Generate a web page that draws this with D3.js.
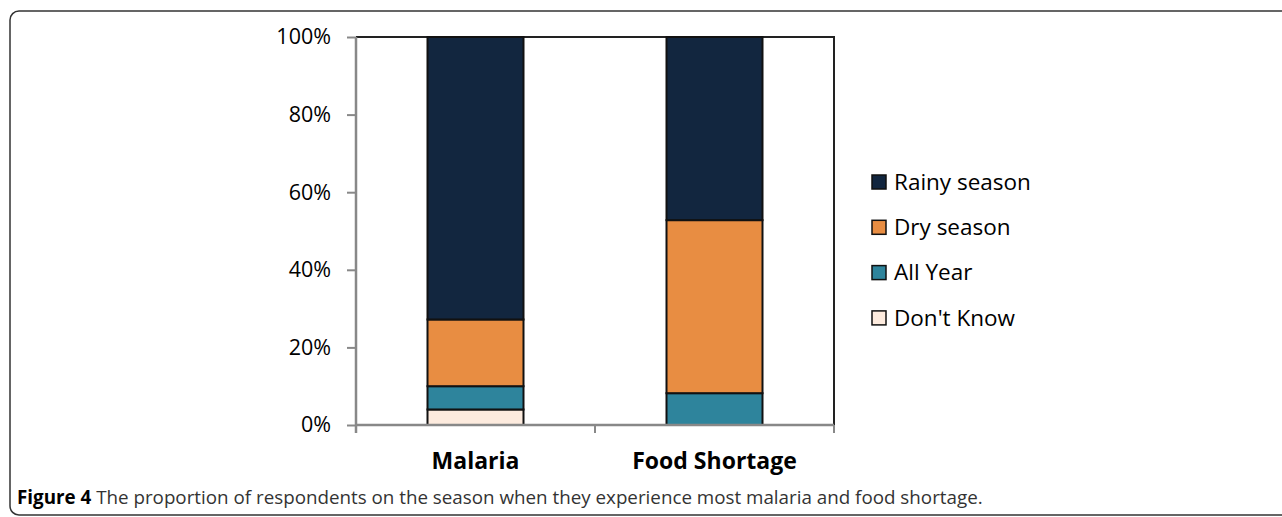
<!DOCTYPE html>
<html>
<head>
<meta charset="utf-8">
<script src="https://cdn.jsdelivr.net/npm/d3@7"></script>
<style>
  body { margin: 0; background: #fff; }
  svg { display: block; }
  text { font-family: "Open Sans", sans-serif; fill: #000; }
</style>
</head>
<body>
<svg width="1282" height="517"></svg>
<script>
const categories = ["Malaria", "Food Shortage"];
const seriesNames = ["Don't Know", "All Year", "Dry season", "Rainy season"];
const dontKnow = [4, 0];
const allYear = [6, 8.2];
const drySeason = [17.2, 44.6];
const rainySeason = [72.8, 47.2];
const colors = ["#fdebde", "#2e849c", "#e88d42", "#12263f"];
const yTicks = [0, 20, 40, 60, 80, 100];

const svg = d3.select("svg");

// outer figure frame (rounded on the left, runs off the right edge)
svg.append("rect")
    .attr("x", 10).attr("y", 11)
    .attr("width", 1300).attr("height", 504)
    .attr("rx", 9)
    .attr("fill", "none")
    .attr("stroke", "#333")
    .attr("stroke-width", 1.5);

const plot = {left: 356, right: 834, top: 37, bottom: 425};

const x = d3.scaleBand()
    .domain(categories)
    .range([plot.left, plot.right])
    .paddingInner(0.6).paddingOuter(0.3);

const y = d3.scaleLinear().domain([0, 100]).range([plot.bottom, plot.top]);

// rows for stacking
const rows = categories.map((c, i) => ({
    cat: c,
    "Don't Know": dontKnow[i],
    "All Year": allYear[i],
    "Dry season": drySeason[i],
    "Rainy season": rainySeason[i]
}));
const stacked = d3.stack().keys(seriesNames)(rows);

// top and right border of plot area
svg.append("path")
    .attr("d", `M${plot.left},${plot.top}H${plot.right}V${plot.bottom}`)
    .attr("fill", "none")
    .attr("stroke", "#222")
    .attr("stroke-width", 2);

// bars
const barW = 96;
svg.append("g")
    .selectAll("g")
    .data(stacked)
    .join("g")
    .attr("fill", (d, i) => colors[i])
    .selectAll("rect")
    .data(d => d.filter(s => s[1] - s[0] > 0))
    .join("rect")
    .attr("x", d => x(d.data.cat) + x.bandwidth() / 2 - barW / 2)
    .attr("width", barW)
    .attr("y", d => y(d[1]))
    .attr("height", d => y(d[0]) - y(d[1]))
    .attr("stroke", "#111")
    .attr("stroke-width", 2);

// y axis
const yAxis = svg.append("g")
    .attr("transform", `translate(${plot.left},0)`)
    .call(d3.axisLeft(y).tickValues(yTicks).tickFormat(d => d + "%").tickSize(9).tickPadding(16));
yAxis.select(".domain").attr("stroke", "#888").attr("stroke-width", 2.5)
    .attr("d", `M0,${plot.top}V${plot.bottom + 8}`);
yAxis.selectAll(".tick line").attr("stroke", "#888").attr("stroke-width", 2);
yAxis.selectAll(".tick text")
    .attr("font-size", 21.5)
    .attr("font-family", "'Open Sans', sans-serif")
    .attr("fill", "#000");

// x axis with boundary ticks
const xAxisG = svg.append("g");
xAxisG.append("line")
    .attr("x1", plot.left).attr("x2", plot.right)
    .attr("y1", plot.bottom).attr("y2", plot.bottom)
    .attr("stroke", "#888").attr("stroke-width", 2.5);
const bounds = [plot.left, (x(categories[0]) + x.bandwidth() / 2 + x(categories[1]) + x.bandwidth() / 2) / 2, plot.right];
xAxisG.selectAll(".bt")
    .data(bounds)
    .join("line")
    .attr("x1", d => d).attr("x2", d => d)
    .attr("y1", plot.bottom).attr("y2", plot.bottom + 8)
    .attr("stroke", "#888").attr("stroke-width", 2);
xAxisG.selectAll("text")
    .data(categories)
    .join("text")
    .attr("x", d => x(d) + x.bandwidth() / 2)
    .attr("y", 469)
    .attr("text-anchor", "middle")
    .attr("font-size", 23)
    .attr("font-weight", "bold")
    .text(d => d);

// legend
const legendItems = seriesNames.map((n, i) => ({name: n, color: colors[i]})).reverse();
const legend = svg.append("g")
    .selectAll("g")
    .data(legendItems)
    .join("g")
    .attr("transform", (d, i) => `translate(872,${182 + i * 45.3})`);
legend.append("rect")
    .attr("x", 0).attr("y", -7)
    .attr("width", 14).attr("height", 14)
    .attr("fill", d => d.color)
    .attr("stroke", "#111").attr("stroke-width", 1.5);
legend.append("text")
    .attr("x", 22).attr("y", 0)
    .attr("dy", "0.35em")
    .attr("font-size", 22.5)
    .text(d => d.name);

// caption
const cap = svg.append("text")
    .attr("x", 17).attr("y", 504)
    .attr("font-size", 18.8);
cap.append("tspan").attr("font-weight", "bold").text("Figure 4");
cap.append("tspan").attr("fill", "#333").text(" The proportion of respondents on the season when they experience most malaria and food shortage.");
</script>
</body>
</html>
